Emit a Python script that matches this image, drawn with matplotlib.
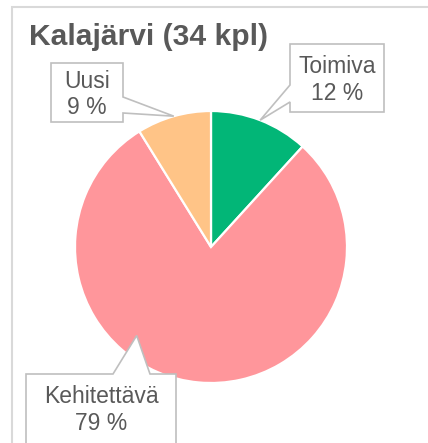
import numpy as np
import matplotlib
matplotlib.use('Agg')
from matplotlib import pyplot as plt
from matplotlib.patches import Polygon, Rectangle

title = 'Kalajärvi (34 kpl)'
names = ['Toimiva', 'Kehitettävä', 'Uusi']
counts = [4, 27, 3]
colors = ['#02B677', '#FF969B', '#FFC487']

W, H = 428, 443
text_col = '#595959'
box_col = '#BFBFBF'

plt.rcParams['font.family'] = ['Liberation Sans', 'DejaVu Sans']

fig = plt.figure(figsize=(W / 100, H / 100), dpi=100)
ax = fig.add_axes([0, 0, 1, 1])


def Y(y):
    # pixel row (from top) -> data y
    return H - y


cx, cy, r = 211, Y(247), 136
wedges, _ = ax.pie(counts, colors=colors, startangle=90, counterclock=False,
                   center=(cx, cy), radius=r,
                   wedgeprops={'edgecolor': 'white', 'linewidth': 1.6})
ax.set_xlim(0, W)
ax.set_ylim(0, H)
ax.axis('off')

# outer frame (only top/left visible)
ax.add_patch(Rectangle((12.5, -20), W, Y(6.5) + 20, fill=False,
                       edgecolor='#D9D9D9', linewidth=1.5, zorder=0))

ax.text(29, Y(45), title, fontsize=21.6, fontweight='bold', color=text_col,
        ha='left', va='baseline')

total = sum(counts)
pcts = [round(100 * c / total) for c in counts]


def tip(w, ang=None, frac=1.0):
    if ang is None:
        ang = (w.theta1 + w.theta2) / 2
    a = np.deg2rad(ang)
    return (cx + r * frac * np.cos(a), cy + r * frac * np.sin(a))


# callout boxes: (left, top, right, bottom) in pixels, pointer side/base
t0 = tip(wedges[0])
t1 = tip(wedges[1], ang=-130, frac=0.85)
t2 = tip(wedges[2])

callouts = [
    # Toimiva: pointer on left side
    ([(290, Y(44)), (384, Y(44)), (384, Y(112)), (290, Y(112)),
      (290, Y(102)), t0, (290, Y(85))], 337, (73, 100)),
    # Kehitettävä: pointer on top side
    ([(26, Y(374)), (113, Y(374)), t1, (150, Y(374)), (176, Y(374)),
      (176, Y(460)), (26, Y(460))], 101, (403, 430)),
    # Uusi: pointer on right side
    ([(51, Y(63)), (123, Y(63)), (123, Y(97)), t2, (123, Y(113)),
      (123, Y(122)), (51, Y(122))], 87, (88, 114)),
]

for i, (verts, xc, (b1, b2)) in enumerate(callouts):
    ax.add_patch(Polygon(verts, closed=True, facecolor='white',
                         edgecolor=box_col, linewidth=1.2, zorder=3,
                         joinstyle='miter'))
    ax.text(xc, Y(b1), names[i], fontsize=16.5, color=text_col,
            ha='center', va='baseline', zorder=4)
    ax.text(xc, Y(b2), f'{pcts[i]} %', fontsize=16.5, color=text_col,
            ha='center', va='baseline', zorder=4)

fig.savefig('out.png', dpi=100)
